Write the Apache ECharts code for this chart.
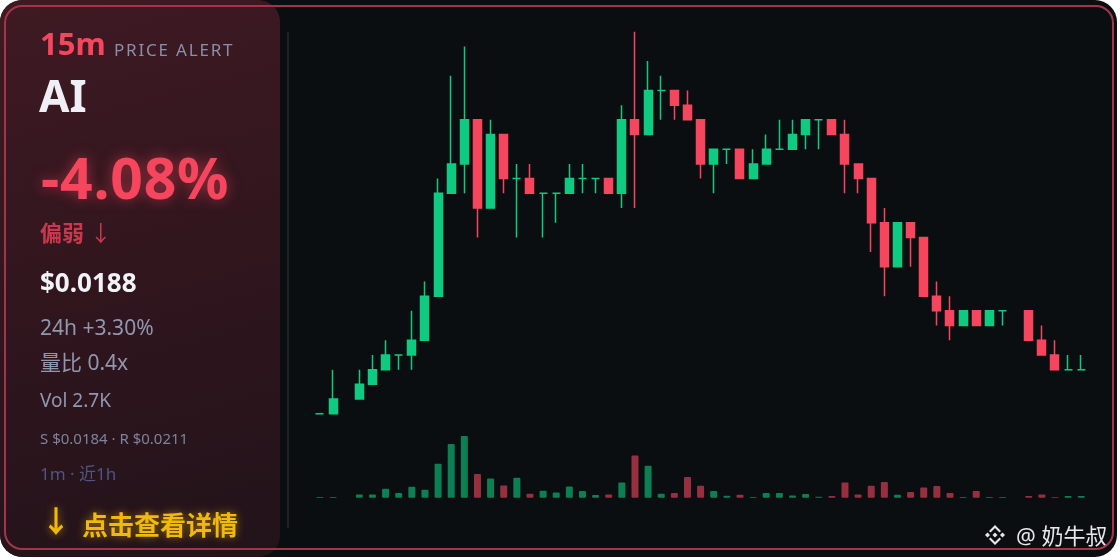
<!DOCTYPE html>
<html>
<head>
<meta charset="utf-8">
<script src="https://cdn.jsdelivr.net/npm/echarts@6/dist/echarts.min.js"></script>
<style>
html, body {
    margin: 0;
    padding: 0;
    background: #ffffff;
}

.card {
    position: absolute;
    left: 0;
    top: 0;
    width: 1117px;
    height: 557px;
    border-radius: 22px;
    background: #0b0e11;
    overflow: hidden;
    font-family: "Noto Sans", "Noto Sans CJK SC", sans-serif;
}

.card .panel {
    position: absolute;
    left: 0;
    top: 0;
    width: 280px;
    height: 557px;
    border-radius: 22px;
    background: linear-gradient(165deg, #3f1a23 0%, #2f151d 55%, #22131a 100%);
}

.card .divider {
    position: absolute;
    left: 287px;
    top: 32px;
    width: 1.5px;
    height: 496px;
    background: #1e2228;
}

.card .frame {
    position: absolute;
    left: 4px;
    top: 5px;
    width: 1110px;
    height: 545px;
    box-sizing: border-box;
    border: 2px solid #a3354a;
    border-radius: 18px;
    pointer-events: none;
}

.card .txt {
    position: absolute;
    line-height: 1;
    white-space: nowrap;
}

#chart {
    position: absolute;
    left: 0;
    top: 0;
    width: 1117px;
    height: 557px;
}
</style>
</head>
<body>
<div class="card">
    <div class="panel"></div>
    <div class="divider"></div>
    <div id="chart"></div>

    <div class="txt" style="left:40px;top:27.5px;font-size:31px;font-weight:700;color:#f6465d">15m</div>
    <div class="txt" style="left:114px;top:40.6px;font-size:17px;letter-spacing:1.8px;color:#8a90a8">PRICE ALERT</div>
    <div class="txt" style="left:39px;top:73.2px;font-size:44px;font-weight:700;color:#eef0f6">AI</div>
    <div class="txt" style="left:41px;top:149.4px;font-size:57px;font-weight:700;letter-spacing:0.8px;color:#f6465d;text-shadow:0 0 14px rgba(246,70,93,0.55)">-4.08%</div>
    <div class="txt" style="left:40px;top:220.5px;font-size:22px;font-weight:700;color:#c9384f">偏弱 <span style="font-weight:400">↓</span></div>
    <div class="txt" style="left:40px;top:268.6px;font-size:26px;font-weight:700;color:#f2f3f7">$0.0188</div>
    <div class="txt" style="left:40px;top:317.4px;font-size:21px;color:#9197ae">24h +3.30%</div>
    <div class="txt" style="left:40px;top:352.4px;font-size:21px;color:#9197ae">量比 0.4x</div>
    <div class="txt" style="left:40px;top:391.4px;font-size:19px;color:#9197ae">Vol 2.7K</div>
    <div class="txt" style="left:40px;top:430.7px;font-size:15px;color:#7d839c">S $0.0184 · R $0.0211</div>
    <div class="txt" style="left:40px;top:464.9px;font-size:17px;color:#4f5484">1m · 近1h</div>
    <div class="txt" style="left:41px;top:506px;font-size:30px;font-weight:700;color:#f0b90b;text-shadow:0 0 8px rgba(240,185,11,0.6)">↓</div>
    <div class="txt" style="left:82px;top:511.9px;font-size:26px;font-weight:700;color:#f0b90b;text-shadow:0 0 8px rgba(240,185,11,0.6)">点击查看详情</div>

    <svg style="position:absolute;left:983px;top:523px" width="24" height="24" viewBox="0 0 24 24">
        <g fill="#e6e6e6">
            <polygon points="12,9.5 14.5,12 12,14.5 9.5,12"/>
            <polygon points="4.5,9.5 7,12 4.5,14.5 2,12"/>
            <polygon points="19.5,9.5 22,12 19.5,14.5 17,12"/>
            <polygon points="12,2 18,8 16.5,9.5 12,5 7.5,9.5 6,8"/>
            <polygon points="12,22 18,16 16.5,14.5 12,19 7.5,14.5 6,16"/>
        </g>
    </svg>
    <div class="txt" style="left:1016px;top:523.5px;font-size:22px;color:#e8e8e8">@ 奶牛叔</div>

    <div class="frame"></div>
</div>

<script>
    // 1m candles, last ~1h
    var opens  = [0.0185, 0.0185, null, 0.0186, 0.0187, 0.0188, 0.0189, 0.0189, 0.0190, 0.0193,
                  0.0200, 0.0202, 0.0205, 0.0199, 0.0204, 0.0201, 0.0201, 0.0200, 0.0200, 0.0200,
                  0.0201, 0.0201, 0.0201, 0.0200, 0.0205, 0.0204, 0.0207, 0.0207, 0.0206, 0.0205,
                  0.0202, 0.0203, 0.0203, 0.0201, 0.0202, 0.0203, 0.0203, 0.0204, 0.0205, 0.0205,
                  0.0204, 0.0202, 0.0201, 0.0198, 0.0195, 0.0198, 0.0197, 0.0193, 0.0192, 0.0191,
                  0.0192, 0.0191, 0.0192, null, 0.0192, 0.0190, 0.0189, 0.0188, 0.0188];
    var closes = [0.0185, 0.0186, null, 0.0187, 0.0188, 0.0189, 0.0189, 0.0190, 0.0193, 0.0200,
                  0.0202, 0.0205, 0.0199, 0.0204, 0.0201, 0.0201, 0.0200, 0.0200, 0.0200, 0.0201,
                  0.0201, 0.0201, 0.0200, 0.0205, 0.0204, 0.0207, 0.0207, 0.0206, 0.0205, 0.0202,
                  0.0203, 0.0203, 0.0201, 0.0202, 0.0203, 0.0203, 0.0204, 0.0205, 0.0205, 0.0204,
                  0.0202, 0.0201, 0.0198, 0.0195, 0.0198, 0.0197, 0.0193, 0.0192, 0.0191, 0.0192,
                  0.0191, 0.0192, 0.0192, null, 0.0190, 0.0189, 0.0188, 0.0188, 0.0188];
    var lows   = [0.0185, 0.0185, null, 0.0186, 0.0187, 0.0188, 0.0188, 0.0188, 0.0190, 0.0193,
                  0.0200, 0.0200, 0.0197, 0.0199, 0.0200, 0.0197, 0.0200, 0.0197, 0.0198, 0.0200,
                  0.0200, 0.0200, 0.0200, 0.0199, 0.0199, 0.0204, 0.0205, 0.0205, 0.0205, 0.0201,
                  0.0200, 0.0202, 0.0201, 0.0201, 0.0202, 0.0203, 0.0203, 0.0203, 0.0203, 0.0204,
                  0.0200, 0.0200, 0.0196, 0.0193, 0.0195, 0.0195, 0.0193, 0.0191, 0.0190, 0.0191,
                  0.0191, 0.0191, 0.0191, null, 0.0190, 0.0189, 0.0188, 0.0188, 0.0188];
    var highs  = [0.0185, 0.0188, null, 0.0188, 0.0189, 0.0190, 0.0189, 0.0192, 0.0194, 0.0201,
                  0.0208, 0.0210, 0.0205, 0.0205, 0.0204, 0.0202, 0.0202, 0.0200, 0.0200, 0.0202,
                  0.0202, 0.0201, 0.0201, 0.0206, 0.0211, 0.0209, 0.0208, 0.0207, 0.0207, 0.0205,
                  0.0203, 0.0203, 0.0203, 0.0203, 0.0204, 0.0205, 0.0205, 0.0205, 0.0205, 0.0205,
                  0.0205, 0.0202, 0.0201, 0.0199, 0.0198, 0.0198, 0.0197, 0.0194, 0.0193, 0.0192,
                  0.0192, 0.0192, 0.0192, null, 0.0192, 0.0191, 0.0190, 0.0189, 0.0189];
    var volumes = [7, 7, null, 33, 33, 90, 47, 110, 80, 340,
                   537, 617, 237, 193, 123, 200, 40, 70, 53, 113,
                   67, 27, 33, 153, 423, 320, 40, 47, 207, 120,
                   67, 20, 30, 7, 47, 47, 23, 37, 10, 17,
                   153, 33, 120, 157, 30, 57, 103, 117, 47, 7,
                   67, 7, 7, null, 17, 33, 7, 17, 17];
    var minutes = opens.map(function (v, i) { return String(i + 1); });

    var UP = '#0ecb81';
    var DOWN = '#f6465d';
    var UP_VOL = 'rgba(14,203,129,0.6)';
    var DOWN_VOL = 'rgba(246,70,93,0.6)';

    var candles = opens.map(function (o, i) {
        if (o === null) return ['-', '-', '-', '-'];
        return [o, closes[i], lows[i], highs[i]];
    });
    var volData = volumes.map(function (v, i) {
        if (v === null) return '-';
        return {
            value: v,
            itemStyle: { color: closes[i] >= opens[i] ? UP_VOL : DOWN_VOL }
        };
    });

    var myChart = echarts.init(document.getElementById('chart'));
    option = {
        backgroundColor: 'transparent',
        animation: false,
        grid: [
            { left: 313.4, width: 774.4, top: 17, height: 411.4 },
            { left: 313.4, width: 774.4, top: 430, height: 67.7 }
        ],
        xAxis: [
            { type: 'category', data: minutes, gridIndex: 0, show: false },
            { type: 'category', data: minutes, gridIndex: 1, show: false }
        ],
        yAxis: [
            { type: 'value', gridIndex: 0, min: 0.0184, max: 0.0212, show: false },
            { type: 'value', gridIndex: 1, min: 0, max: 677, show: false }
        ],
        series: [
            {
                type: 'candlestick',
                data: candles,
                barWidth: 8.5,
                itemStyle: {
                    color: UP,
                    color0: DOWN,
                    borderColor: UP,
                    borderColor0: DOWN,
                    borderColorDoji: UP,
                    borderWidth: 1.5
                }
            },
            {
                type: 'bar',
                xAxisIndex: 1,
                yAxisIndex: 1,
                data: volData,
                barWidth: 7,
                itemStyle: { borderRadius: 1 }
            }
        ]
    };
    myChart.setOption(option);
</script>
</body>
</html>
